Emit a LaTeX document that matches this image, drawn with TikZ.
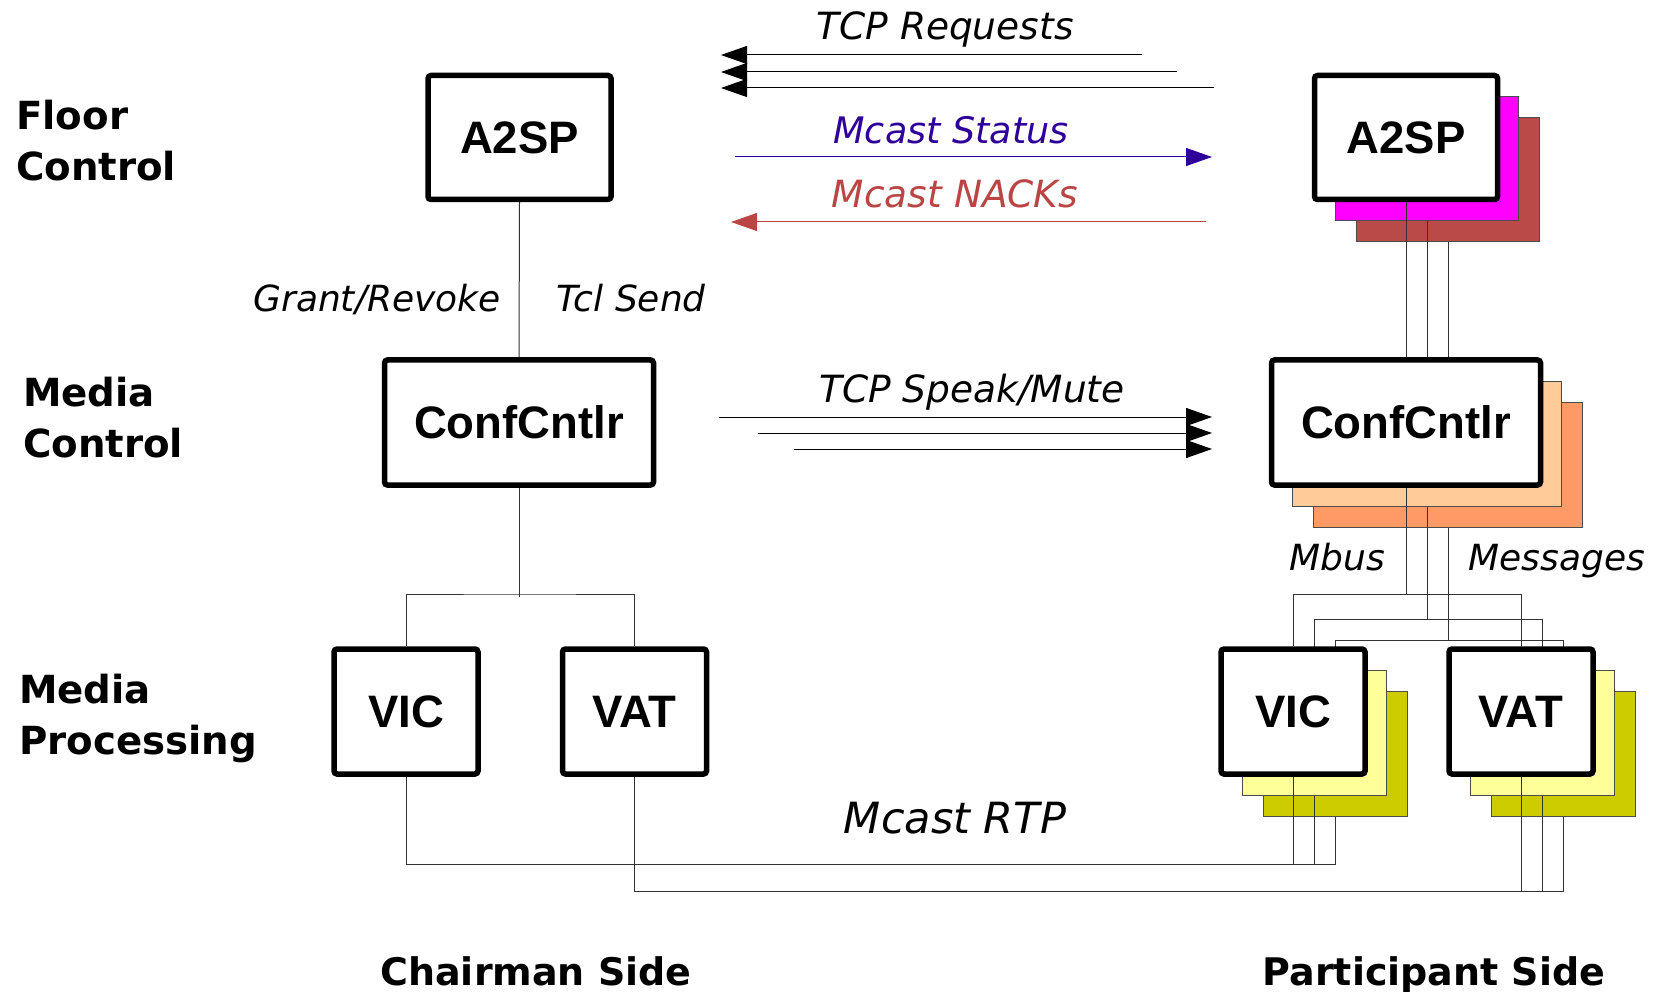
\documentclass[tikz,border=0pt]{standalone}
\usepackage{fontspec}
\setmainfont{DejaVu Sans}
\newfontfamily\boxfont{Liberation Sans}
\usetikzlibrary{arrows.meta, calc, backgrounds}
\definecolor{statuscolor}{RGB}{46,0,153}
\definecolor{nackcolor}{RGB}{187,68,68}
\definecolor{floorA}{RGB}{255,0,255}
\definecolor{floorB}{RGB}{185,74,72}
\definecolor{mediaA}{RGB}{255,204,153}
\definecolor{mediaB}{RGB}{255,153,102}
\definecolor{procA}{RGB}{255,255,153}
\definecolor{procB}{RGB}{204,204,0}

\begin{document}
\begin{tikzpicture}[
    x=1pt, y=-1pt,
    proc/.style={draw, line width=5.5pt, fill=white, rounded corners=3pt, inner sep=0pt, font=\boxfont\bfseries\fontsize{45.5}{52}\selectfont},
    stackbox/.style={draw=black!70, line width=1pt, inner sep=0pt},
    a2spbox/.style={minimum width=183pt, minimum height=124pt},
    cntlrbox/.style={minimum width=269pt, minimum height=125pt},
    toolbox/.style={minimum width=144pt, minimum height=125pt},
    levellabel/.style={font=\bfseries\fontsize{38.7}{51}\selectfont, align=left, anchor=north west, inner sep=0pt},
    sidelabel/.style={font=\bfseries\fontsize{38}{51}\selectfont, anchor=base},
    msglabel/.style={font=\itshape\fontsize{37.5}{45}\selectfont, anchor=base},
    link/.style={line width=1pt, black!80},
    msgline/.style={line width=1pt, -{Triangle[length=26pt, width=18pt]}}
]
    \useasboundingbox (0,0) rectangle (1655,992);

    % Layer labels
    \node[levellabel] (floor) at (16,100) {Floor\\Control};
    \node[levellabel] (media) at (23,377) {Media\\Control};
    \node[levellabel] (process) at (19,674) {Media\\Processing};

    % Chairman side
    \node[proc, a2spbox] (a2spC) at (519.5,137.5) {A2SP};
    \node[proc, cntlrbox] (cntlrC) at (519,422.5) {ConfCntlr};
    \node[proc, toolbox] (vicC) at (406,711.5) {VIC};
    \node[proc, toolbox] (vatC) at (634.5,711.5) {VAT};

    % Participant side
    \node[proc, a2spbox] (a2spP) at (1406,137.5) {A2SP};
    \node[proc, cntlrbox] (cntlrP) at (1406,422.5) {ConfCntlr};
    \node[proc, toolbox] (vicP) at (1293,711.5) {VIC};
    \node[proc, toolbox] (vatP) at (1521,711.5) {VAT};

    \begin{scope}[on background layer]
        % Copies behind the participant boxes
        \node[stackbox, a2spbox, fill=floorB, xshift=42pt, yshift=-42pt] (a2spP2) at (a2spP) {};
        \node[stackbox, a2spbox, fill=floorA, xshift=21pt, yshift=-21pt] (a2spP1) at (a2spP) {};
        \node[stackbox, cntlrbox, fill=mediaB, xshift=42pt, yshift=-42pt] (cntlrP2) at (cntlrP) {};
        \node[stackbox, cntlrbox, fill=mediaA, xshift=21pt, yshift=-21pt] (cntlrP1) at (cntlrP) {};
        \node[stackbox, toolbox, fill=procB, xshift=42pt, yshift=-42pt] (vicP2) at (vicP) {};
        \node[stackbox, toolbox, fill=procA, xshift=21pt, yshift=-21pt] (vicP1) at (vicP) {};
        \node[stackbox, toolbox, fill=procB, xshift=42pt, yshift=-42pt] (vatP2) at (vatP) {};
        \node[stackbox, toolbox, fill=procA, xshift=21pt, yshift=-21pt] (vatP1) at (vatP) {};

        % Chairman links
        \coordinate (busC) at (519,594);
        \draw[link] (a2spC.south) -- (cntlrC.north);
        \draw[link] (cntlrC.south) -- ($(busC)+(0,3)$);
        \draw[link] (vicC.north) |- (busC) -| (vatC.north);

        % Participant links
        \coordinate (busP) at (0,594);
        \coordinate (busP1) at (0,619);
        \coordinate (busP2) at (0,640);
        \draw[link] (a2spP.south) -- (cntlrP.north);
        \draw[link] (a2spP1.south) -- (cntlrP1.north);
        \draw[link] (a2spP2.south) -- (cntlrP2.north);
        \draw[link] (cntlrP.south) -- (cntlrP.south |- busP);
        \draw[link] (cntlrP1.south) -- (cntlrP1.south |- busP1);
        \draw[link] (cntlrP2.south) -- (cntlrP2.south |- busP2);
        \draw[link] (vicP.north) |- (vatP.north |- busP) -- (vatP.north);
        \draw[link] (vicP1.north) |- (vatP1.north |- busP1) -- (vatP1.north);
        \draw[link] (vicP2.north) |- (vatP2.north |- busP2) -- (vatP2.north);

        % Mcast RTP
        \coordinate (rtpVic) at (0,864);
        \coordinate (rtpVat) at (0,891);
        \draw[link] (vicC.south) |- (vicP2.south |- rtpVic) -- (vicP2.south);
        \draw[link] (vicP.south) -- (vicP.south |- rtpVic);
        \draw[link] (vicP1.south) -- (vicP1.south |- rtpVic);
        \draw[link] (vatC.south) |- (vatP2.south |- rtpVat) -- (vatP2.south);
        \draw[link] (vatP.south) -- (vatP.south |- rtpVat);
        \draw[link] (vatP1.south) -- (vatP1.south |- rtpVat);
    \end{scope}

    % TCP requests
    \coordinate (req1) at (1142,55);
    \coordinate (req2) at (1177,72);
    \coordinate (req3) at (1214,88);
    \coordinate (reqEnd) at (721,0);
    \draw[msgline] (req1) -- (req1 -| reqEnd);
    \draw[msgline] (req2) -- (req2 -| reqEnd);
    \draw[msgline] (req3) -- (req3 -| reqEnd);
    \node[msglabel] (reqText) at (945,40) {TCP Requests};

    % Multicast status and NACKs
    \coordinate (stat) at (735,157);
    \coordinate (statEnd) at (1212,157);
    \draw[msgline, statuscolor] (stat) -- (statEnd);
    \node[msglabel, statuscolor, font=\itshape\fontsize{36.5}{44}\selectfont] (statText) at (951,144) {Mcast Status};
    \coordinate (nack) at (1206,222);
    \coordinate (nackEnd) at (731,222);
    \draw[msgline, nackcolor] (nack) -- (nackEnd);
    \node[msglabel, nackcolor] (nackText) at (955,208) {Mcast NACKs};

    % TCP speak/mute
    \coordinate (spk1) at (719,417);
    \coordinate (spk2) at (758,433);
    \coordinate (spk3) at (794,449);
    \coordinate (spkEnd) at (1212,0);
    \draw[msgline] (spk1) -- (spk1 -| spkEnd);
    \draw[msgline] (spk2) -- (spk2 -| spkEnd);
    \draw[msgline] (spk3) -- (spk3 -| spkEnd);
    \node[msglabel] (spkText) at (972,402) {TCP Speak/Mute};

    % Link labels
    \node[msglabel, font=\itshape\fontsize{36}{44}\selectfont] (grant) at (377,312) {Grant/Revoke};
    \node[msglabel, font=\itshape\fontsize{36}{44}\selectfont] (tcl) at (631,312) {Tcl Send};
    \node[msglabel, font=\itshape\fontsize{36}{44}\selectfont] (mbus) at (1337,570) {Mbus};
    \node[msglabel, font=\itshape\fontsize{36}{44}\selectfont] (messages) at (1557,570) {Messages};
    \node[msglabel, font=\itshape\fontsize{43}{50}\selectfont] (rtp) at (955,833) {Mcast RTP};

    % Sides
    \node[sidelabel] (chair) at (536,985) {Chairman Side};
    \node[sidelabel] (part) at (1434,985) {Participant Side};
\end{tikzpicture}
\end{document}
